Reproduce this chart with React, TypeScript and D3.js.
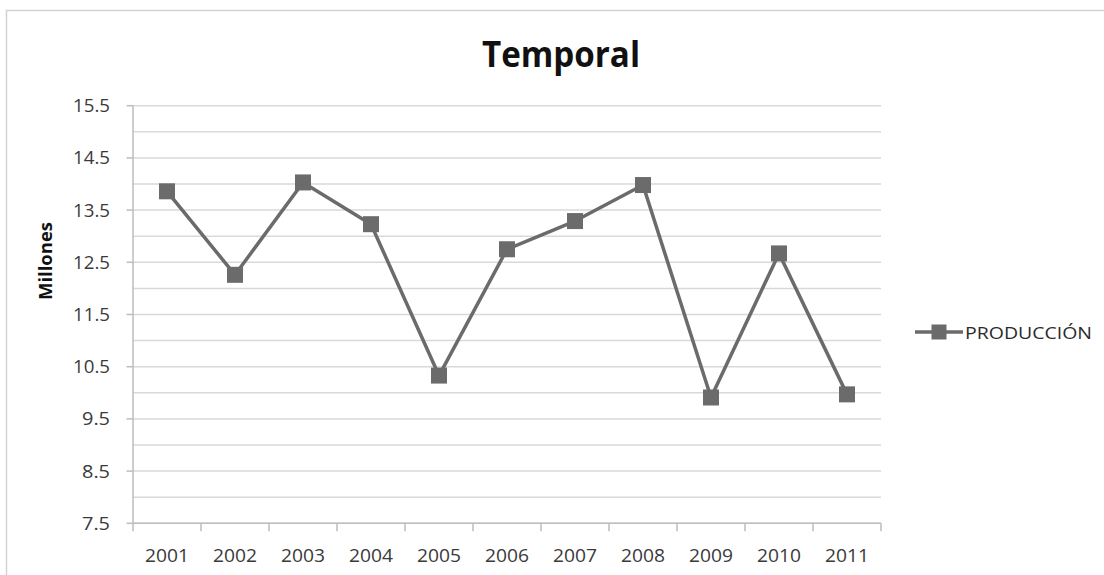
import React from "react";
import * as d3 from "d3";

const years = ["2001", "2002", "2003", "2004", "2005", "2006", "2007", "2008", "2009", "2010", "2011"];
const produccion = [13.86, 12.26, 14.03, 13.23, 10.33, 12.75, 13.29, 13.98, 9.91, 12.67, 9.97];
const yTickValues = [7.5, 8.5, 9.5, 10.5, 11.5, 12.5, 13.5, 14.5, 15.5];
const yGridValues = [7.5, 8, 8.5, 9, 9.5, 10, 10.5, 11, 11.5, 12, 12.5, 13, 13.5, 14, 14.5, 15, 15.5];
const title = "Temporal";
const yLabel = "Millones";
const seriesName = "PRODUCCIÓN";

const W = 1104;
const H = 575;
const left = 133;
const right = 881;
const top = 105.7;
const bottom = 523.3;

export default function App() {
  const x = d3.scaleBand<string>().domain(years).range([left, right]).padding(0);
  const y = d3.scaleLinear().domain([7.5, 15.5]).range([bottom, top]);
  const line = d3
    .line<number>()
    .x((_, i) => (x(years[i]) as number) + x.bandwidth() / 2)
    .y((d) => y(d));
  const font = "'Open Sans', 'Noto Sans', sans-serif";
  const grid = "#d9d9d9";
  const axis = "#bdbdbd";
  const ink = "#6b6b6b";
  const ms = 16;
  const boundaries = years.map((yr) => x(yr) as number).concat([right]);

  return (
    <svg
      width={W}
      height={H}
      style={{ position: "absolute", left: 0, top: 0, background: "#fff" }}
      fontFamily={font}
    >
      <rect x={0} y={0} width={W} height={H} fill="#fff" />
      {/* chart frame */}
      <path d={`M6.5,${H} V10.5 H${W}`} fill="none" stroke="#d2d2d2" strokeWidth={1.5} />

      {/* title */}
      <text x={561} y={67} textAnchor="middle" fontSize={35} fontWeight="bold" fill="#111" textLength={158} lengthAdjust="spacingAndGlyphs">
        {title}
      </text>

      {/* gridlines */}
      {yGridValues.map((v) => (
        <line key={v} x1={left} x2={right} y1={y(v)} y2={y(v)} stroke={grid} strokeWidth={1.5} />
      ))}
      {/* major tick marks on y axis */}
      {yTickValues.map((v) => (
        <line key={"t" + v} x1={left - 6.5} x2={left} y1={y(v)} y2={y(v)} stroke={axis} strokeWidth={1.5} />
      ))}
      {/* y axis */}
      <line x1={left} x2={left} y1={top} y2={bottom} stroke={axis} strokeWidth={1.5} />
      {/* x axis */}
      <line x1={left} x2={right} y1={bottom} y2={bottom} stroke={axis} strokeWidth={1.5} />
      {boundaries.map((bx, i) => (
        <line key={"xb" + i} x1={bx} x2={bx} y1={bottom} y2={bottom + 8} stroke={axis} strokeWidth={1.5} />
      ))}

      {/* y tick labels */}
      {yTickValues.map((v) => (
        <text key={"yl" + v} x={110} y={y(v) + 6.5} textAnchor="end" fontSize={18} fill="#3a3a3a" textLength={v >= 10 ? 37 : 28} lengthAdjust="spacingAndGlyphs">
          {v.toFixed(1)}
        </text>
      ))}

      {/* x tick labels */}
      {years.map((yr) => (
        <text key={"xl" + yr} x={(x(yr) as number) + x.bandwidth() / 2} y={562} textAnchor="middle" fontSize={18} fill="#3a3a3a" textLength={44} lengthAdjust="spacingAndGlyphs">
          {yr}
        </text>
      ))}

      {/* y axis title */}
      <text
        transform={`translate(52,261) rotate(-90)`}
        textAnchor="middle"
        fontSize={17}
        fontWeight="bold"
        fill="#111"
        textLength={78}
        lengthAdjust="spacingAndGlyphs"
      >
        {yLabel}
      </text>

      {/* series */}
      <path d={line(produccion) || ""} fill="none" stroke={ink} strokeWidth={3.5} strokeLinejoin="round" />
      {produccion.map((v, i) => (
        <rect
          key={"m" + i}
          x={(x(years[i]) as number) + x.bandwidth() / 2 - ms / 2}
          y={y(v) - ms / 2}
          width={ms}
          height={ms}
          fill={ink}
        />
      ))}

      {/* legend */}
      <line x1={915} x2={963} y1={332} y2={332} stroke={ink} strokeWidth={3.5} />
      <rect x={939 - 7.5} y={332 - 7.5} width={15} height={15} fill={ink} />
      <text x={965} y={338.5} fontSize={16.5} fill="#2a2a2a" textLength={127} lengthAdjust="spacingAndGlyphs">
        {seriesName}
      </text>
    </svg>
  );
}
